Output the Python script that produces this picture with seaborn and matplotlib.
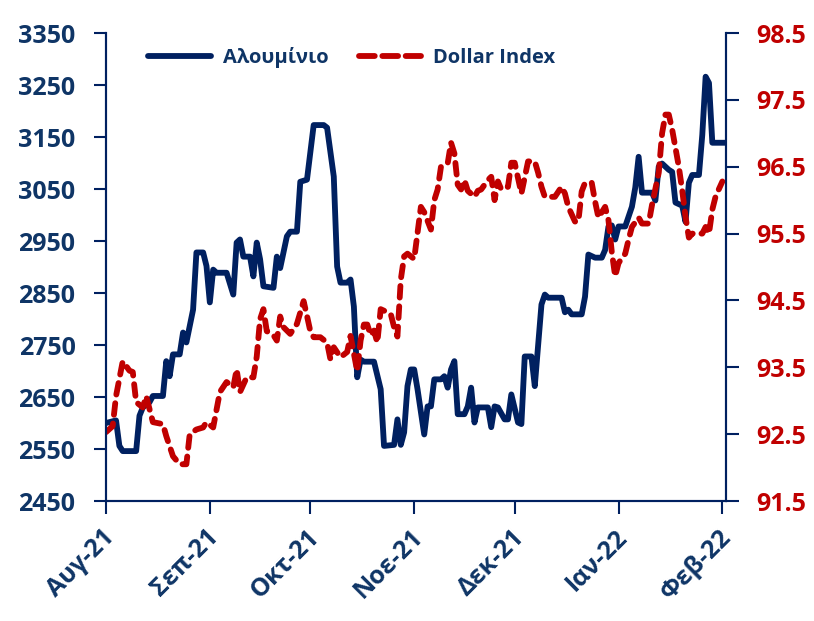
import numpy as np
import pandas as pd
import matplotlib
matplotlib.use("Agg")
import matplotlib.pyplot as plt
import matplotlib.transforms as mtransforms
from matplotlib.lines import Line2D
import seaborn as sns

sns.set_style("white")
plt.rcParams['font.family'] = ['Open Sans', 'DejaVu Sans']
plt.rcParams['font.weight'] = 'bold'

NAVY = '#002060'
TXT = '#0F3566'
RED = '#C00000'

# Aluminium price (left axis)
al_dates = ["2021-08-01", "2021-08-04", "2021-08-05", "2021-08-06", "2021-08-10", "2021-08-11",
            "2021-08-12", "2021-08-14", "2021-08-15", "2021-08-18", "2021-08-19", "2021-08-20",
            "2021-08-21", "2021-08-23", "2021-08-24", "2021-08-25", "2021-08-27", "2021-08-28",
            "2021-08-30", "2021-08-31", "2021-09-01", "2021-09-02", "2021-09-03", "2021-09-06",
            "2021-09-08", "2021-09-09", "2021-09-10", "2021-09-11", "2021-09-13", "2021-09-14",
            "2021-09-15", "2021-09-16", "2021-09-17", "2021-09-20", "2021-09-21", "2021-09-22",
            "2021-09-24", "2021-09-25", "2021-09-27", "2021-09-28", "2021-09-30", "2021-10-02",
            "2021-10-05", "2021-10-06", "2021-10-08", "2021-10-09", "2021-10-10", "2021-10-12",
            "2021-10-13", "2021-10-14", "2021-10-15", "2021-10-16", "2021-10-17", "2021-10-20",
            "2021-10-22", "2021-10-23", "2021-10-26", "2021-10-27", "2021-10-28", "2021-10-29",
            "2021-10-30", "2021-10-31", "2021-11-01", "2021-11-02", "2021-11-04", "2021-11-05",
            "2021-11-06", "2021-11-07", "2021-11-09", "2021-11-10", "2021-11-11", "2021-11-12",
            "2021-11-13", "2021-11-14", "2021-11-16", "2021-11-17", "2021-11-18", "2021-11-19",
            "2021-11-20", "2021-11-23", "2021-11-24", "2021-11-25", "2021-11-26", "2021-11-28",
            "2021-11-29", "2021-11-30", "2021-12-02", "2021-12-03", "2021-12-04", "2021-12-06",
            "2021-12-07", "2021-12-09", "2021-12-10", "2021-12-11", "2021-12-15", "2021-12-16",
            "2021-12-17", "2021-12-18", "2021-12-21", "2021-12-22", "2021-12-23", "2021-12-25",
            "2021-12-27", "2021-12-28", "2021-12-29", "2021-12-30", "2021-12-31", "2022-01-01",
            "2022-01-03", "2022-01-05", "2022-01-06", "2022-01-07", "2022-01-08", "2022-01-11",
            "2022-01-12", "2022-01-13", "2022-01-14", "2022-01-16", "2022-01-17", "2022-01-18",
            "2022-01-20", "2022-01-21", "2022-01-22", "2022-01-23", "2022-01-25", "2022-01-26",
            "2022-01-27", "2022-01-28", "2022-01-29", "2022-02-02"]
al_values = [2600, 2605, 2556, 2546, 2546, 2614,
             2630, 2640, 2652, 2652, 2719, 2690,
             2732, 2732, 2774, 2755, 2818, 2928,
             2928, 2902, 2832, 2895, 2889, 2889,
             2847, 2947, 2953, 2920, 2920, 2882,
             2947, 2915, 2863, 2860, 2920, 2898,
             2959, 2968, 2968, 3064, 3068, 3173,
             3173, 3168, 3074, 2901, 2870, 2870,
             2876, 2824, 2688, 2722, 2718, 2718,
             2665, 2556, 2558, 2607, 2558, 2582,
             2671, 2703, 2703, 2665, 2578, 2632,
             2632, 2684, 2684, 2690, 2668, 2703,
             2719, 2617, 2617, 2632, 2668, 2601,
             2630, 2630, 2592, 2632, 2630, 2607,
             2607, 2655, 2601, 2598, 2728, 2728,
             2671, 2828, 2847, 2841, 2841, 2813,
             2818, 2809, 2809, 2843, 2924, 2918,
             2918, 2933, 2978, 2980, 2953, 2978,
             2978, 3016, 3053, 3112, 3043, 3043,
             3028, 3093, 3099, 3087, 3083, 3024,
             3018, 2987, 3062, 3077, 3077, 3154,
             3266, 3254, 3139, 3139]

# Dollar Index (right axis)
dx_dates = ["2021-08-01", "2021-08-03", "2021-08-04", "2021-08-06", "2021-08-08", "2021-08-09",
            "2021-08-10", "2021-08-12", "2021-08-13", "2021-08-15", "2021-08-18", "2021-08-19",
            "2021-08-21", "2021-08-23", "2021-08-25", "2021-08-26", "2021-08-28", "2021-08-30",
            "2021-08-31", "2021-09-02", "2021-09-04", "2021-09-06", "2021-09-08", "2021-09-09",
            "2021-09-10", "2021-09-12", "2021-09-14", "2021-09-15", "2021-09-16", "2021-09-17",
            "2021-09-18", "2021-09-20", "2021-09-21", "2021-09-22", "2021-09-23", "2021-09-25",
            "2021-09-27", "2021-09-29", "2021-09-30", "2021-10-01", "2021-10-02", "2021-10-04",
            "2021-10-06", "2021-10-07", "2021-10-08", "2021-10-10", "2021-10-12", "2021-10-13",
            "2021-10-15", "2021-10-16", "2021-10-17", "2021-10-18", "2021-10-19", "2021-10-20",
            "2021-10-21", "2021-10-22", "2021-10-25", "2021-10-26", "2021-10-27", "2021-10-28",
            "2021-10-29", "2021-10-30", "2021-11-01", "2021-11-02", "2021-11-03", "2021-11-04",
            "2021-11-06", "2021-11-07", "2021-11-08", "2021-11-09", "2021-11-11", "2021-11-12",
            "2021-11-13", "2021-11-14", "2021-11-15", "2021-11-16", "2021-11-17", "2021-11-19",
            "2021-11-20", "2021-11-21", "2021-11-23", "2021-11-24", "2021-11-25", "2021-11-26",
            "2021-11-27", "2021-11-29", "2021-11-30", "2021-12-01", "2021-12-03", "2021-12-05",
            "2021-12-07", "2021-12-08", "2021-12-09", "2021-12-10", "2021-12-13", "2021-12-15",
            "2021-12-16", "2021-12-17", "2021-12-19", "2021-12-20", "2021-12-21", "2021-12-22",
            "2021-12-24", "2021-12-25", "2021-12-26", "2021-12-28", "2021-12-29", "2021-12-30",
            "2021-12-31", "2022-01-01", "2022-01-03", "2022-01-04", "2022-01-05", "2022-01-07",
            "2022-01-08", "2022-01-10", "2022-01-11", "2022-01-13", "2022-01-14", "2022-01-15",
            "2022-01-16", "2022-01-17", "2022-01-19", "2022-01-20", "2022-01-21", "2022-01-22",
            "2022-01-23", "2022-01-26", "2022-01-27", "2022-01-28", "2022-01-29", "2022-01-30",
            "2022-02-01"]
dx_values = [92.53, 92.62, 93.07, 93.59, 93.45, 93.43,
             92.98, 92.90, 93.07, 92.68, 92.65, 92.47,
             92.17, 92.05, 92.05, 92.50, 92.57, 92.60,
             92.68, 92.60, 93.13, 93.28, 93.20, 93.47,
             93.13, 93.35, 93.35, 93.66, 94.22, 94.37,
             94.04, 93.98, 93.90, 94.26, 94.10, 94.00,
             94.15, 94.49, 94.27, 94.04, 93.95, 93.95,
             93.87, 93.62, 93.80, 93.65, 93.73, 93.97,
             93.44, 93.90, 94.14, 94.14, 93.98, 94.05,
             93.87, 94.37, 94.30, 94.10, 93.96, 94.81,
             95.16, 95.20, 95.12, 95.51, 95.90, 95.82,
             95.56, 96.00, 96.16, 96.50, 96.55, 96.86,
             96.70, 96.23, 96.16, 96.30, 96.14, 96.05,
             96.14, 96.16, 96.30, 96.35, 96.00, 96.28,
             96.16, 96.20, 96.56, 96.56, 96.10, 96.58,
             96.58, 96.41, 96.20, 96.05, 96.05, 96.20,
             96.10, 95.90, 95.68, 95.68, 96.13, 96.26,
             96.26, 95.98, 95.74, 95.90, 95.70, 95.22,
             94.86, 95.06, 95.20, 95.41, 95.60, 95.74,
             95.65, 95.65, 95.93, 96.41, 97.00, 97.28,
             97.28, 97.06, 96.50, 96.15, 95.75, 95.44,
             95.50, 95.50, 95.60, 95.50, 95.86, 96.06,
             96.28]

month_ticks = ["2021-08-01", "2021-09-01", "2021-10-01", "2021-11-01",
               "2021-12-01", "2022-01-01", "2022-02-01"]
month_labels = ["Αυγ-21", "Σεπ-21", "Οκτ-21", "Νοε-21", "Δεκ-21", "Ιαν-22", "Φεβ-22"]

al = pd.DataFrame({"date": pd.to_datetime(al_dates), "value": al_values})
dx = pd.DataFrame({"date": pd.to_datetime(dx_dates), "value": dx_values})

fig = plt.figure(figsize=(8.14, 6.21), dpi=100)
ax = fig.add_axes([0.1302, 0.1932, 0.7617, 0.7536])
ax2 = ax.twinx()

sns.lineplot(data=al, x="date", y="value", ax=ax, color=NAVY, lw=4.2, legend=False)
sns.lineplot(data=dx, x="date", y="value", ax=ax2, color=RED, lw=4.2, legend=False)
l1 = ax.lines[0]
l2 = ax2.lines[0]
l2.set_linestyle((0, (2.0, 1.5)))
l2.set_dash_capstyle("round")
l1.set_solid_joinstyle("round")

ax.set_xlim(pd.Timestamp("2021-08-01"), pd.Timestamp("2022-02-02 02:00"))
ax.set_ylim(2450, 3350)
ax.set_yticks(np.arange(2450, 3351, 100))
ax2.set_ylim(91.5, 98.5)
ax2.set_yticks(np.arange(91.5, 98.6, 1.0))
ax2.set_yticklabels([f"{v:.1f}" for v in np.arange(91.5, 98.6, 1.0)])
ax.set_xticks(pd.to_datetime(month_ticks))
ax.set_xticklabels(month_labels, rotation=45, ha="right", va="center", rotation_mode="anchor")
ax.set_xlabel("")
ax.set_ylabel("")
ax2.set_ylabel("")

for a in (ax, ax2):
    a.spines["top"].set_visible(False)
    for s in ("left", "right", "bottom"):
        a.spines[s].set_color(NAVY)
        a.spines[s].set_linewidth(1.5)

ax.tick_params(axis="y", left=True, direction="out", length=9, width=1.5, color=NAVY,
               labelcolor=TXT, labelsize=18, pad=13)
ax.tick_params(axis="x", bottom=True, direction="out", length=9, width=1.5, color=NAVY,
               labelcolor=TXT, labelsize=18, pad=13)
ax2.tick_params(axis="y", right=True, direction="out", length=9, width=1.5, color=NAVY,
                labelcolor=RED, labelsize=18, pad=13)

shift = mtransforms.ScaledTranslation(0.05, -0.02, fig.dpi_scale_trans)
for lab in ax.get_xticklabels():
    lab.set_transform(lab.get_transform() + shift)

# legend keys: solid navy and three evenly spaced red dashes
key_al = Line2D([], [], color=NAVY, lw=4.2, solid_capstyle="round")
key_dx = Line2D([], [], color=RED, lw=4.2, linestyle=(0, (2.7, 1.3)), dash_capstyle="round")
leg = fig.legend([key_al, key_dx], ["Αλουμίνιο", "Dollar Index"], loc="center left",
                 bbox_to_anchor=(0.170, 0.908), ncol=2, frameon=False, borderpad=0,
                 handlelength=3.1, handletextpad=0.6, columnspacing=1.5,
                 prop={"size": 14.5, "weight": "bold"})
for t in leg.get_texts():
    t.set_color(TXT)

fig.savefig("out.png", dpi=100)
